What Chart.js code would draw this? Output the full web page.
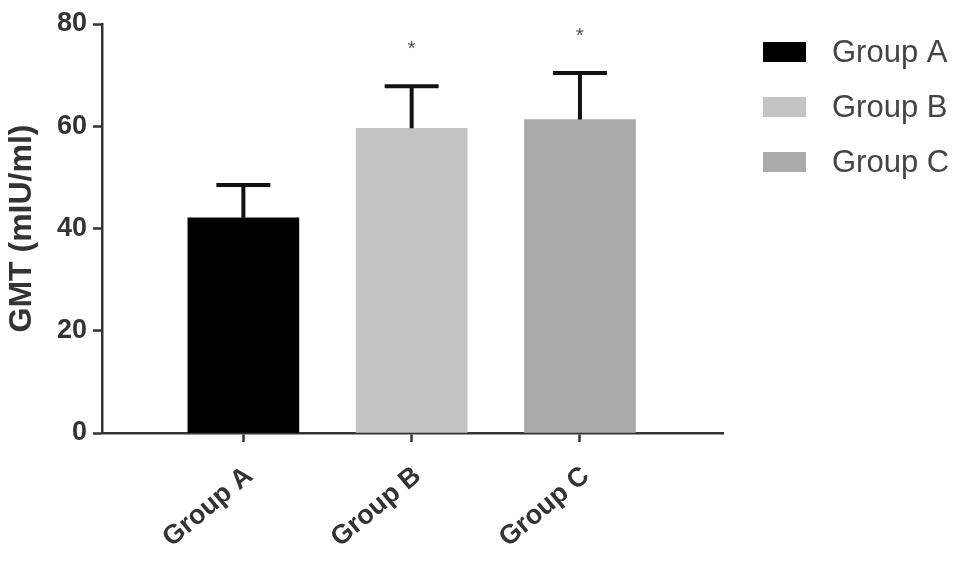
<!DOCTYPE html>
<html>
<head>
<meta charset="utf-8">
<script src="https://cdn.jsdelivr.net/npm/chart.js@4.4.0/dist/chart.umd.min.js"></script>
<style>
  html, body { margin: 0; padding: 0; background: #fff; }
  #wrap { width: 969px; height: 568px; }
</style>
</head>
<body>
<div id="wrap"><canvas id="gmtChart" width="969" height="568"></canvas></div>
<script>
const GROUPS = ["Group A", "Group B", "Group C"];
const GMT_MEAN = [42.1, 59.6, 61.3];
const GMT_SD = [6.4, 8.2, 9.1];
const SIGNIF = ["", "*", "*"];
const BAR_COLORS = ["#000000", "#c4c4c4", "#aaaaaa"];
const Y_TICKS = [0, 20, 40, 60, 80];

const FONT = "'Liberation Sans', Arial, Helvetica, sans-serif";
const INK = "#333333";

// SD whiskers (upper only) plus the significance stars
const errorBars = {
  id: "errorBars",
  afterDatasetsDraw(chart) {
    const { ctx, scales: { x, y } } = chart;
    ctx.save();
    GROUPS.forEach((g, i) => {
      const cx = x.getPixelForValue(i);
      const yMean = y.getPixelForValue(GMT_MEAN[i]);
      const yTop = y.getPixelForValue(GMT_MEAN[i] + GMT_SD[i]);
      ctx.strokeStyle = "#111";
      ctx.lineWidth = 4;
      ctx.beginPath();
      ctx.moveTo(cx, yMean);
      ctx.lineTo(cx, yTop);
      ctx.moveTo(cx - 27, yTop);
      ctx.lineTo(cx + 27, yTop);
      ctx.stroke();
      if (SIGNIF[i]) {
        ctx.fillStyle = "#555";
        ctx.font = `21px ${FONT}`;
        ctx.textAlign = "center";
        ctx.textBaseline = "middle";
        ctx.fillText(SIGNIF[i], cx, yTop - 37);
      }
    });
    ctx.restore();
  }
};

// legend on the right, drawn by hand so it sits where the original has it
const sideLegend = {
  id: "sideLegend",
  afterDraw(chart) {
    const { ctx } = chart;
    ctx.save();
    ctx.font = `31px ${FONT}`;
    ctx.textBaseline = "middle";
    ctx.textAlign = "left";
    chart.data.datasets.forEach((ds, i) => {
      const cy = 52 + i * 55;
      ctx.fillStyle = ds.backgroundColor;
      ctx.fillRect(763, cy - 10, 43, 20);
      ctx.fillStyle = "#444";
      ctx.fillText(ds.label, 832, cy + 1);
    });
    ctx.restore();
  }
};

new Chart(document.getElementById("gmtChart"), {
  type: "bar",
  data: {
    datasets: GROUPS.map((g, i) => ({
      label: g,
      data: [{ x: i, y: GMT_MEAN[i] }],
      backgroundColor: BAR_COLORS[i],
      borderWidth: 0,
      barThickness: 111,
      grouped: false
    }))
  },
  options: {
    responsive: false,
    animation: false,
    layout: { padding: { top: 24, right: 246, left: 0, bottom: 0 } },
    plugins: { legend: { display: false }, tooltip: { enabled: false } },
    scales: {
      x: {
        type: "linear",
        offset: false,
        min: -0.84,
        max: 2.85,
        afterBuildTicks: s => { s.ticks = GROUPS.map((g, i) => ({ value: i })); },
        afterFit: s => { s.height = 135; },
        ticks: {
          callback: v => GROUPS[v],
          minRotation: 40,
          maxRotation: 40,
          labelOffset: 6,
          color: INK,
          padding: 18,
          font: { family: FONT, size: 27, weight: "bold" }
        },
        grid: { offset: false, drawOnChartArea: false, drawTicks: true, tickLength: 9, tickWidth: 2.5, tickColor: "#333" },
        border: { color: "#333", width: 2.5 }
      },
      y: {
        min: 0,
        max: 80,
        afterBuildTicks: s => { s.ticks = Y_TICKS.map(v => ({ value: v })); },
        afterFit: s => { s.width = 102; },
        ticks: {
          color: INK,
          padding: 6,
          font: { family: FONT, size: 27, weight: "bold" }
        },
        grid: { drawOnChartArea: false, drawTicks: true, tickLength: 9, tickWidth: 2.5, tickColor: "#333" },
        border: { color: "#333", width: 2.5 },
        title: {
          display: true,
          text: "GMT (mIU/ml)",
          color: INK,
          padding: { top: 3, bottom: 0 },
          font: { family: FONT, size: 32, weight: "bold" }
        }
      }
    }
  },
  plugins: [errorBars, sideLegend]
});
</script>
</body>
</html>
